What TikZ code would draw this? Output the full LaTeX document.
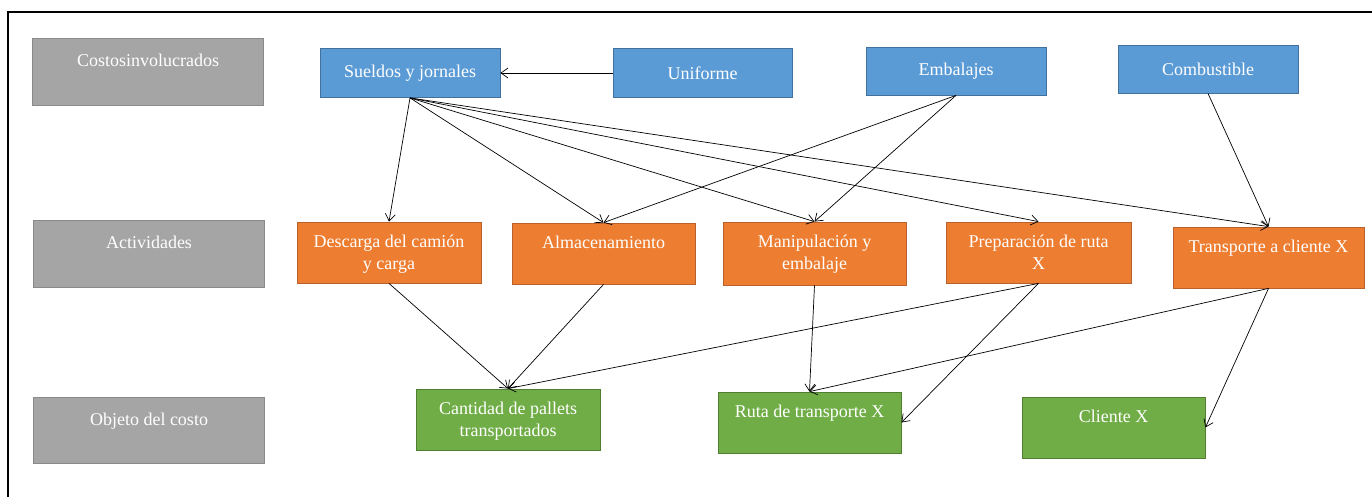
\documentclass[tikz,border=0pt]{standalone}
\usepackage{fontspec}
\setmainfont{Liberation Serif}
\usetikzlibrary{arrows.meta}

\definecolor{grisfondo}{HTML}{A5A5A5}
\definecolor{grisborde}{HTML}{8A8A8A}
\definecolor{azulfondo}{HTML}{5B9BD5}
\definecolor{azulborde}{HTML}{41719C}
\definecolor{naranjafondo}{HTML}{ED7D31}
\definecolor{naranjaborde}{HTML}{B8612A}
\definecolor{verdefondo}{HTML}{70AD47}
\definecolor{verdeborde}{HTML}{507E32}

\tikzset{
	caja/.style={draw, rectangle, line width=0.8pt, text=white, font=\fontsize{18}{22}\selectfont, align=center, inner sep=0pt, minimum width=183pt, minimum height=61pt},
	gris/.style={caja, fill=grisfondo, draw=grisborde, minimum width=231pt, minimum height=67pt},
	azul/.style={caja, fill=azulfondo, draw=azulborde, minimum width=180pt, minimum height=49pt},
	naranja/.style={caja, fill=naranjafondo, draw=naranjaborde},
	verde/.style={caja, fill=verdefondo, draw=verdeborde},
	arriba/.style={text=white, font=\fontsize{18}{22}\selectfont, align=center, anchor=north, yshift=-9.5pt},
}

\begin{document}
\begin{tikzpicture}[x=1pt, y=-1pt, >={Straight Barb[length=7pt,width=10pt]}]
	\useasboundingbox (0,0) rectangle (1372,497);
	% marco
	\draw[line width=2pt] (8,497) -- (8,12) -- (1372,12);

	% filas de la izquierda
	\node[gris, label={[arriba, yshift=-3pt]north:Costosinvolucrados}] (costos) at (148,71.5) {};
	\node[gris, label={[arriba, yshift=-3pt]north:Actividades}] (actividades) at (149,254) {};
	\node[gris, minimum height=66pt, label={[arriba, yshift=-3pt]north:Objeto del costo}] (objeto) at (149,430) {};

	% costos involucrados
	\node[azul] (sueldos) at (410,73) {Sueldos y jornales};
	\node[azul, minimum width=179pt] (uniforme) at (702.5,73) {Uniforme};
	\node[azul, minimum height=48pt] (embalajes) at (956,71) {Embalajes};
	\node[azul, minimum height=48pt] (combustible) at (1208,69) {Combustible};

	% actividades
	\node[naranja, minimum width=184pt, label={[arriba]north:Descarga del camión\\y carga}] (descarga) at (389,252.5) {};
	\node[naranja, label={[arriba]north:Almacenamiento}] (almacen) at (603.5,253.5) {};
	\node[naranja, minimum height=63pt, label={[arriba]north:Manipulación y\\embalaje}] (manipulacion) at (814.5,253.5) {};
	\node[naranja, minimum width=185pt, label={[arriba]north:Preparación de ruta\\X}] (preparacion) at (1038.5,252.5) {};
	\node[naranja, minimum width=191pt, label={[arriba]north:Transporte a cliente X}] (transporte) at (1268.5,257.5) {};

	% objetos del costo
	\node[verde, minimum width=184pt, label={[arriba]north:Cantidad de pallets\\transportados}] (pallets) at (508,419.5) {};
	\node[verde, label={[arriba]north:Ruta de transporte X}] (ruta) at (809.5,422.5) {};
	\node[verde, label={[arriba]north:Cliente X}] (cliente) at (1113.5,427.5) {};

	% flechas
	\draw[->, line width=0.7pt] (uniforme) -- (sueldos);
	\draw[->, line width=0.7pt] (sueldos.south) -- (descarga.north);
	\draw[->, line width=0.7pt] (sueldos.south) -- (almacen.north);
	\draw[->, line width=0.7pt] (sueldos.south) -- (manipulacion.north);
	\draw[->, line width=0.7pt] (sueldos.south) -- (preparacion.north);
	\draw[->, line width=0.7pt] (sueldos.south) -- (transporte.north);
	\draw[->, line width=0.7pt] (embalajes.south) -- (almacen.north);
	\draw[->, line width=0.7pt] (embalajes.south) -- (manipulacion.north);
	\draw[->, line width=0.7pt] (combustible.south) -- (transporte.north);

	\draw[->, line width=0.7pt] (descarga.south) -- (pallets.north);
	\draw[->, line width=0.7pt] (almacen.south) -- (pallets.north);
	\draw[->, line width=0.7pt] (preparacion.south) -- (pallets.north);
	\draw[->, line width=0.7pt] (manipulacion.south) -- (ruta.north);
	\draw[->, line width=0.7pt] (preparacion.south) -- (ruta.east);
	\draw[->, line width=0.7pt] (transporte.south) -- (ruta.north);
	\draw[->, line width=0.7pt] (transporte.south) -- (cliente.east);
\end{tikzpicture}
\end{document}
